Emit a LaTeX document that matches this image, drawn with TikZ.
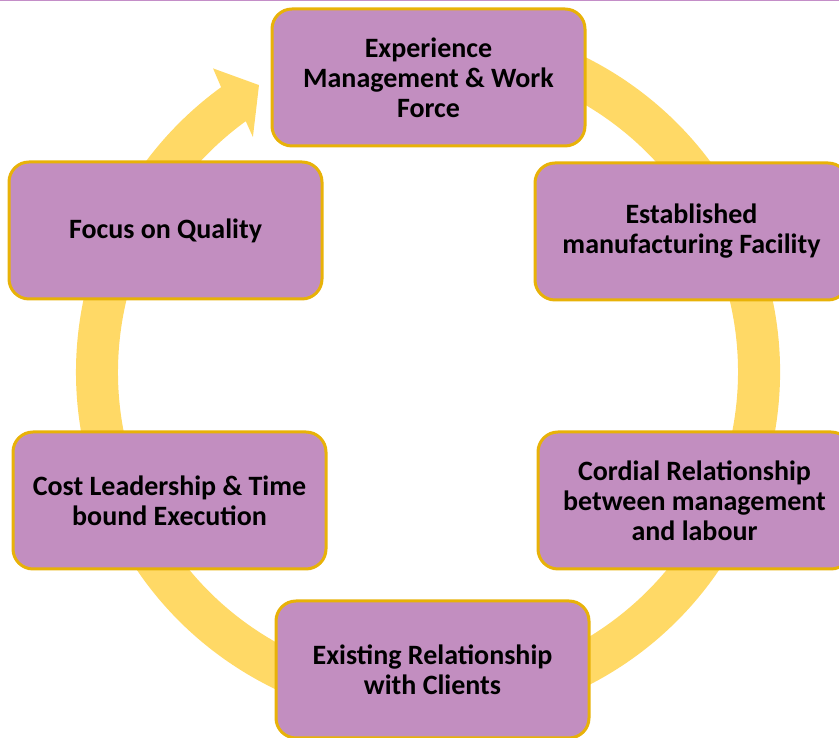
\documentclass[tikz,border=0pt]{standalone}
\usepackage{fontspec}
\setmainfont{Carlito}
\definecolor{boxfill}{RGB}{194,142,192}
\definecolor{boxline}{RGB}{232,178,8}
\definecolor{ringc}{RGB}{255,217,102}
\definecolor{topline}{RGB}{196,142,200}
\tikzset{
  card/.style={rectangle, rounded corners=20pt, minimum width=313pt, minimum height=137pt,
    fill=boxfill, draw=boxline, line width=3pt, align=center, inner sep=0pt,
    font=\bfseries\fontsize{28}{30}\selectfont},
  ring/.style={fill=ringc}
}
\begin{document}
\begin{tikzpicture}[x=1pt,y=1pt]
\useasboundingbox (0,0) rectangle (839,738);
\clip (0,0) rectangle (839,738);
\begin{scope}[shift={(428,366)}]
\fill[ring] (113:352) arc[start angle=113, end angle=-234, radius=352]
  -- (-234.7:372) -- (-239.5:333) -- (-233.3:293) -- (-234:310)
  arc[start angle=-234, end angle=113, radius=310] -- cycle;
\end{scope}
\node[card] (exp) at (428.5,660.5) {Experience\\Management \& Work\\Force};
\node[card] (est) at (691.5,506.5) {Established\\manufacturing Facility};
\node[card] (foc) at (165.5,507.5) {Focus on Quality};
\node[card] (cor) at (694.5,237.5) {Cordial Relationship\\between management\\and labour};
\node[card] (cost) at (169.5,237.5) {Cost Leadership \& Time\\bound Execution};
\node[card] (exi) at (432.5,68.5) {Existing Relationship\\with Clients};
\draw[topline, line width=1.6pt] (0,737.5) -- (839,737.5);
\end{tikzpicture}
\end{document}
